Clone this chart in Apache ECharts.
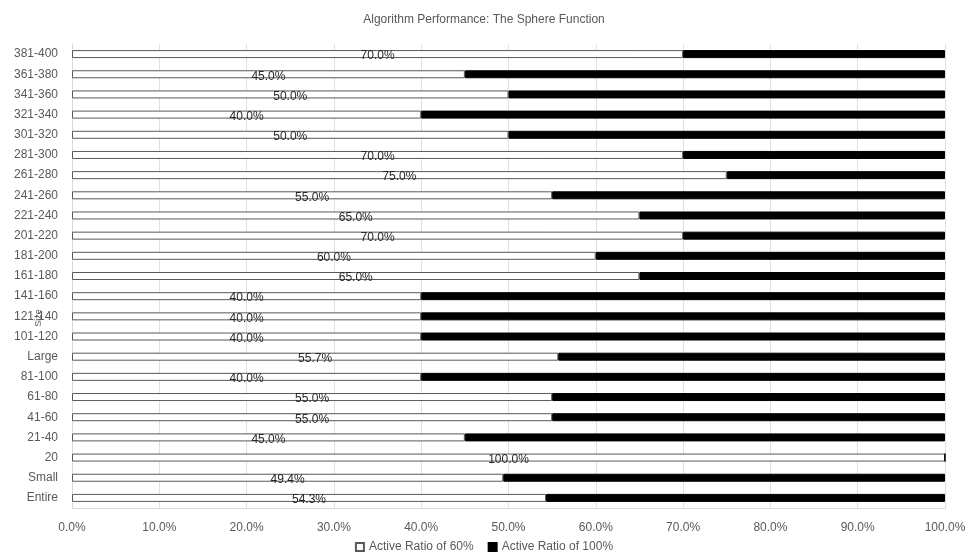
<!DOCTYPE html>
<html><head><meta charset="utf-8">
<script src="https://cdn.jsdelivr.net/npm/echarts@6/dist/echarts.min.js"></script>
<style>html,body{margin:0;padding:0;background:#fff}#c{width:968px;height:559px}</style>
</head><body><div id="c"></div>
<script>
const categories = ["Entire","Small","20","21-40","41-60","61-80","81-100","Large","101-120","121-140","141-160","161-180","181-200","201-220","221-240","241-260","261-280","281-300","301-320","321-340","341-360","361-380","381-400"];
const ratio60 = [54.3,49.4,100.0,45.0,55.0,55.0,40.0,55.7,40.0,40.0,40.0,65.0,60.0,70.0,65.0,55.0,75.0,70.0,50.0,40.0,50.0,45.0,70.0];
const ratio100 = [45.7,50.6,0.0,55.0,45.0,45.0,60.0,44.3,60.0,60.0,60.0,35.0,40.0,30.0,35.0,45.0,25.0,30.0,50.0,60.0,50.0,55.0,30.0];
const seriesNames = ["Active Ratio of 60%","Active Ratio of 100%"];
const chart = echarts.init(document.getElementById('c'));
const font = 'Liberation Sans, Arial, sans-serif';
chart.setOption({
  animation:false,
  title:{text:'Algorithm Performance: The Sphere Function',left:'center',top:9,
    textStyle:{fontFamily:font,fontSize:12,fontWeight:'normal',color:'#595959'}},
  grid:{left:72,right:23,top:44,bottom:51,containLabel:false,outerBoundsMode:'none'},
  legend:{bottom:1,itemGap:14,itemWidth:8,itemHeight:8,icon:'rect',
    textStyle:{fontFamily:font,fontSize:12,color:'#595959'},data:seriesNames},
  xAxis:{type:'value',min:0,max:100,interval:10,
    axisLabel:{fontFamily:font,fontSize:12,color:'#595959',margin:14,formatter:v=>v.toFixed(1)+'%'},
    splitLine:{lineStyle:{color:'#e0e0e0'}},axisLine:{show:true,lineStyle:{color:'#d9d9d9'}},axisTick:{show:false}},
  yAxis:{type:'category',data:categories,name:'Size',nameLocation:'middle',nameGap:29,nameRotate:90,
    nameMoveOverlap:false,
    nameTextStyle:{fontFamily:font,fontSize:9,color:'#595959',padding:[0,84,0,0]},
    axisLabel:{fontFamily:font,fontSize:12,color:'#595959',margin:14},
    axisLine:{show:true,lineStyle:{color:'#d9d9d9'}},axisTick:{show:false}},
  series:[
    {name:seriesNames[0],type:'bar',stack:'t',data:ratio60,barWidth:8,
     itemStyle:{color:'#ffffff',borderColor:'#595959',borderWidth:1},
     label:{show:true,position:'inside',offset:[0,2],fontFamily:font,fontSize:12,color:'#262626',
       formatter:p=>p.value.toFixed(1)+'%'}},
    {name:seriesNames[1],type:'bar',stack:'t',data:ratio100,barWidth:8,
     itemStyle:{color:'#000000',borderColor:'#000000',borderWidth:1}}
  ]
});
</script></body></html>
